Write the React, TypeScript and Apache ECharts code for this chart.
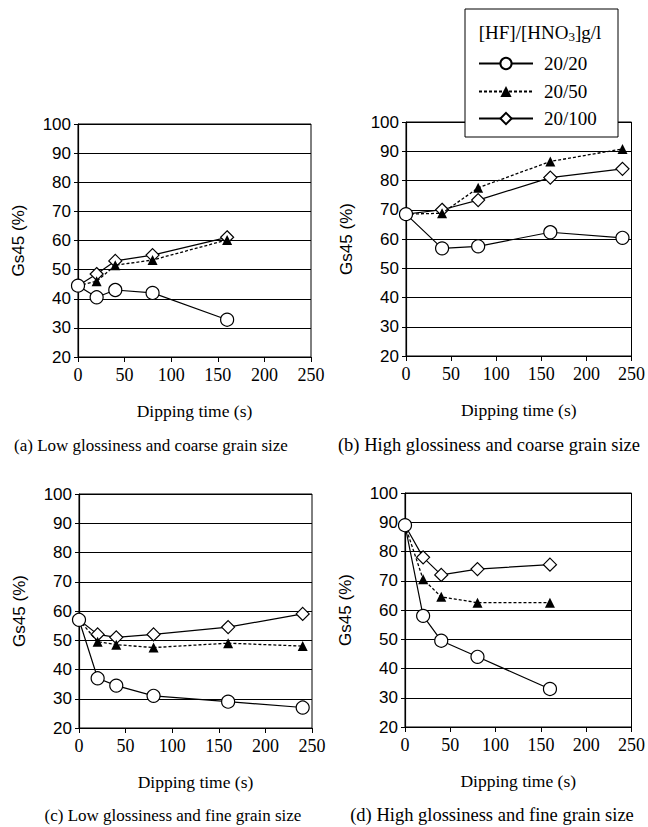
import React, { useEffect, useRef } from "react";
import * as echarts from "echarts";

const xTicks = [0, 50, 100, 150, 200, 250];
const yTicks = [20, 30, 40, 50, 60, 70, 80, 90, 100];
const seriesNames = ["20/20", "20/50", "20/100"];

// (a) Low glossiness and coarse grain size
const timesA = [0, 20, 40, 80, 160];
const a2020 = [44.5, 40.5, 43, 42, 32.8];
const a2050 = [44.5, 46, 51.5, 53.3, 60.2];
const a20100 = [44.5, 48.5, 53, 55, 61.1];

// (b) High glossiness and coarse grain size
const timesB = [0, 40, 80, 160, 240];
const b2020 = [68.5, 56.8, 57.5, 62.3, 60.4];
const b2050 = [68.5, 68.8, 77.5, 86.5, 90.8];
const b20100 = [68.5, 70, 73.3, 81, 84];

// (c) Low glossiness and fine grain size
const timesC = [0, 20, 40, 80, 160, 240];
const c2020 = [57, 37, 34.5, 31, 29, 27];
const c2050 = [57, 49.5, 48.5, 47.5, 49, 48];
const c20100 = [57, 52, 51, 52, 54.5, 59];

// (d) High glossiness and fine grain size
const timesD = [0, 20, 40, 80, 160];
const d2020 = [89, 58, 49.5, 44, 33];
const d2050 = [89, 70.5, 64.5, 62.5, 62.5];
const d20100 = [89, 78, 72, 74, 75.5];

const captions = [
  "(a) Low glossiness and coarse grain size",
  "(b) High glossiness and coarse grain size",
  "(c) Low glossiness and fine grain size",
  "(d) High glossiness and fine grain size",
];

const panels = [
  { t: timesA, s: [a2020, a2050, a20100] },
  { t: timesB, s: [b2020, b2050, b20100] },
  { t: timesC, s: [c2020, c2050, c20100] },
  { t: timesD, s: [d2020, d2050, d20100] },
];

const SERIF = "Liberation Serif";
const SANS = "Liberation Sans";

const grids = [
  { left: 78, top: 124, width: 233, height: 233 },
  { left: 406, top: 122, width: 231, height: 234 },
  { left: 79, top: 494, width: 233, height: 234 },
  { left: 405, top: 493, width: 232, height: 234 },
];
const captionPos = [
  { x: 151, y: 445, size: 17 },
  { x: 489, y: 445, size: 18.5 },
  { x: 173, y: 815, size: 17 },
  { x: 492, y: 815, size: 18.5 },
];
const legendRows = [62, 90, 117];

export default function App() {
  const ref = useRef<HTMLDivElement>(null);
  useEffect(() => {
    if (!ref.current) return;
    const chart = echarts.init(ref.current, undefined, { renderer: "svg" });

    const xAxis = grids.map((_, i) => ({
      type: "value",
      gridIndex: i,
      min: xTicks[0],
      max: xTicks[xTicks.length - 1],
      interval: 50,
      name: "Dipping time (s)",
      nameLocation: "middle",
      nameGap: 45,
      nameTextStyle: { fontFamily: SERIF, fontSize: 17.5, color: "#000", fontWeight: "normal" },
      axisLine: { show: true, lineStyle: { color: "#000", width: 1.2 } },
      axisTick: { show: true, length: 5, lineStyle: { color: "#000" } },
      axisLabel: { fontFamily: SERIF, fontSize: 18, color: "#000", margin: 9 },
      splitLine: { show: false },
    }));
    const yAxis = grids.map((_, i) => ({
      type: "value",
      gridIndex: i,
      min: yTicks[0],
      max: yTicks[yTicks.length - 1],
      interval: 10,
      name: "Gs45 (%)",
      nameLocation: "middle",
      nameRotate: 90,
      nameGap: 51,
      nameTextStyle: { fontFamily: SANS, fontSize: 17, color: "#000", fontWeight: "normal" },
      axisLine: { show: true, lineStyle: { color: "#000", width: 1.2 } },
      axisTick: { show: true, length: 4, lineStyle: { color: "#000" } },
      axisLabel: { fontFamily: SANS, fontSize: 17, color: "#000", margin: 7 },
      splitLine: { show: true, lineStyle: { color: "#000", width: 1.2 } },
    }));

    const series: any[] = [];
    panels.forEach((p, gi) => {
      series.push({
        name: seriesNames[2],
        type: "line",
        xAxisIndex: gi,
        yAxisIndex: gi,
        z: 2,
        symbol: "diamond",
        symbolSize: 13,
        data: p.t.map((t, i) =>
          i === 0 ? { value: [t, p.s[2][i]], symbol: "none" } : [t, p.s[2][i]]
        ),
        lineStyle: { color: "#000", width: 1.2 },
        itemStyle: { color: "#fff", borderColor: "#000", borderWidth: 1.2 },
      });
      series.push({
        name: seriesNames[1],
        type: "line",
        xAxisIndex: gi,
        yAxisIndex: gi,
        z: 3,
        symbol: "triangle",
        symbolSize: 10,
        data: p.t.map((t, i) =>
          i === 0 ? { value: [t, p.s[1][i]], symbol: "none" } : [t, p.s[1][i]]
        ),
        lineStyle: { color: "#000", width: 1.3, type: [3, 2] },
        itemStyle: { color: "#000", borderColor: "#000", borderWidth: 0 },
      });
      series.push({
        name: seriesNames[0],
        type: "line",
        xAxisIndex: gi,
        yAxisIndex: gi,
        z: 4,
        symbol: "circle",
        symbolSize: 13,
        data: p.t.map((t, i) => [t, p.s[0][i]]),
        lineStyle: { color: "#000", width: 1.2 },
        itemStyle: { color: "#fff", borderColor: "#000", borderWidth: 1.2 },
      });
    });

    const graphic: any[] = captions.map((c, i) => ({
      type: "text",
      x: captionPos[i].x,
      y: captionPos[i].y,
      style: {
        text: c,
        align: "center",
        verticalAlign: "middle",
        fontFamily: SERIF,
        fontSize: captionPos[i].size,
        fill: "#000",
      },
    }));
    graphic.push({
      type: "rect",
      z: 10,
      shape: { x: 465, y: 9, width: 153, height: 128 },
      style: { fill: "#fff", stroke: "#000", lineWidth: 1 },
    });
    graphic.push({
      type: "text",
      z: 11,
      x: 540,
      y: 32,
      style: {
        text: "[HF]/[HNO{sub|3}]g/l",
        align: "center",
        verticalAlign: "middle",
        fontFamily: SERIF,
        fontSize: 19,
        fill: "#000",
        rich: {
          sub: {
            fontFamily: SERIF,
            fontSize: 13,
            fill: "#000",
            padding: [8, 0, 0, 0],
          },
        },
      },
    });

    const legend = seriesNames.map((n, i) => ({
      show: true,
      z: 20,
      orient: "vertical",
      left: 478,
      top: legendRows[i] - 8,
      itemWidth: 54,
      itemHeight: 14,
      padding: 0,
      data: [n],
      selectedMode: false,
      textStyle: {
        fontFamily: SERIF,
        fontSize: 19,
        lineHeight: 16,
        color: "#000",
        padding: [0, 0, 0, 6],
      },
    }));

    chart.setOption({
      animation: false,
      backgroundColor: "#fff",
      textStyle: { fontFamily: SERIF },
      grid: grids.map((g) => ({
        ...g,
        show: true,
        borderColor: "#000",
        borderWidth: 1,
        backgroundColor: "transparent",
      })),
      xAxis,
      yAxis,
      series,
      legend,
      graphic,
    });
    return () => chart.dispose();
  }, []);
  return (
    <div
      ref={ref}
      style={{ position: "absolute", left: 0, top: 0, width: 648, height: 827 }}
    />
  );
}
